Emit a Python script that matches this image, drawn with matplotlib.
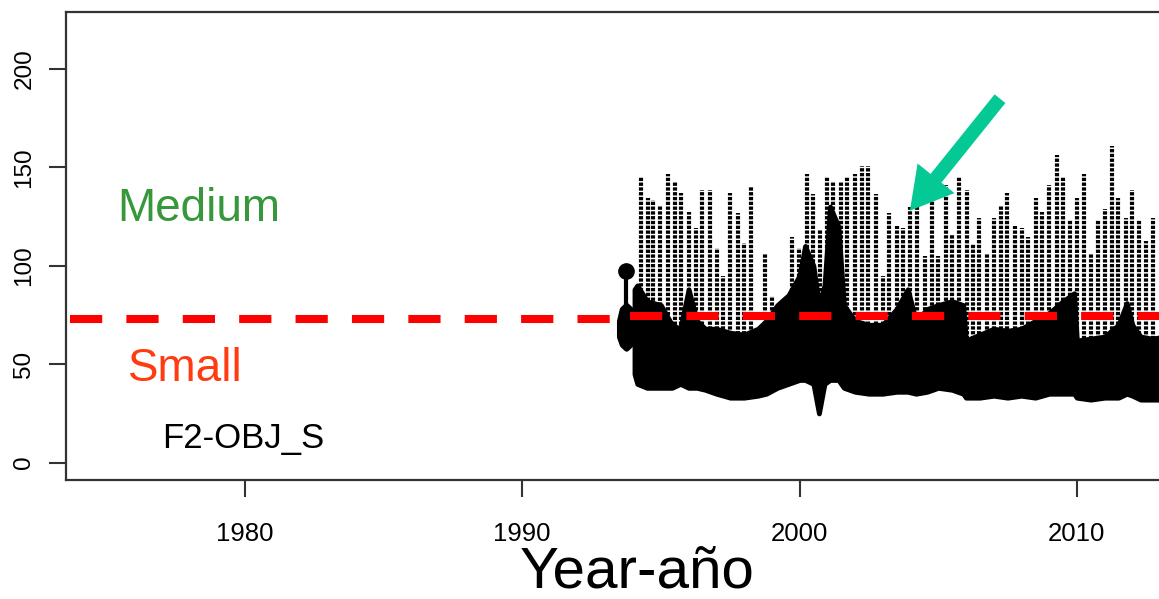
import matplotlib
matplotlib.use('Agg')
import matplotlib.pyplot as plt
import numpy as np

plt.rcParams['font.family'] = ['Liberation Sans', 'DejaVu Sans']

# -------- peak events (year, peak size)
peak_year = [1994.27, 1994.52, 1994.71, 1994.97, 1995.25, 1995.51, 1995.72, 1996.01,
             1996.26, 1996.48, 1996.77, 1997.02, 1997.24, 1997.49, 1997.78, 1997.99,
             1998.25, 1998.75, 1999.00, 1999.73, 1999.98, 2000.27, 2000.48, 2000.74,
             2000.99, 2001.20, 2001.49, 2001.71, 2002.00, 2002.25, 2002.47, 2002.76,
             2003.01, 2003.22, 2003.51, 2003.73, 2003.98, 2004.23, 2004.52, 2004.77,
             2004.99, 2005.28, 2005.50, 2005.75, 2006.04, 2006.25, 2006.47, 2006.76,
             2007.01, 2007.26, 2007.48, 2007.77, 2008.02, 2008.24, 2008.53, 2008.74,
             2008.99, 2009.28, 2009.50, 2009.75, 2010.00, 2010.26, 2010.51, 2010.76,
             2011.01, 2011.27, 2011.48, 2011.77, 2011.99, 2012.24, 2012.49, 2012.74]
peak_value = [145.2, 134.5, 133.5, 130.5, 146.7, 142.6, 137.1, 127.4,
              119.3, 138.6, 138.6, 109.1, 94.9, 137.1, 126.9, 111.7,
              140.6, 106.6, 84.8, 114.7, 109.1, 146.7, 136.5, 118.8,
              145.2, 142.6, 142.6, 145.2, 146.7, 150.8, 150.8, 136.5,
              94.9, 126.9, 120.3, 119.3, 129.9, 136.5, 105.1, 135.5,
              105.1, 141.1, 116.2, 145.2, 138.6, 111.2, 124.4, 106.6,
              124.4, 130.5, 137.1, 120.3, 119.3, 114.7, 134.5, 127.4,
              141.1, 156.3, 145.2, 123.4, 134.5, 146.7, 106.1, 123.4,
              128.9, 160.9, 134.5, 124.4, 138.6, 123.4, 112.7, 124.4]

# -------- continuous record envelope
band_year = [1994.05, 1994.15, 1994.5, 1995.0, 1995.4, 1995.7, 1996.0, 1996.3,
             1996.6, 1997.0, 1997.5, 1998.0, 1998.5, 1998.8, 1999.2, 1999.6,
             2000.0, 2000.2, 2000.5, 2000.7, 2000.9, 2001.1, 2001.4, 2001.6,
             2002.0, 2002.5, 2003.0, 2003.5, 2003.9, 2004.2, 2004.6, 2005.0,
             2005.5, 2005.9, 2006.0, 2006.5, 2007.0, 2007.5, 2008.0, 2008.5,
             2009.0, 2009.5, 2009.9, 2010.0, 2010.5, 2011.0, 2011.5, 2011.8,
             2012.0, 2012.3, 2012.7, 2013.2]
band_low = [45, 40, 38, 38, 38, 40, 38, 38,
            37, 35, 33, 33, 34, 35, 38, 40,
            42, 42, 40, 25, 40, 42, 42, 38,
            36, 35, 35, 36, 36, 35, 36, 38,
            37, 35, 33, 33, 34, 33, 34, 33,
            35, 35, 35, 33, 32, 33, 33, 35,
            34, 32, 32, 32]
band_high = [88, 90, 82, 80, 70, 68, 88, 72,
             68, 68, 66, 65, 68, 72, 80, 85,
             95, 110, 100, 80, 90, 130, 120, 80,
             72, 70, 70, 78, 88, 72, 78, 80,
             82, 80, 62, 65, 68, 67, 68, 72,
             76, 82, 86, 62, 63, 64, 70, 81,
             70, 64, 63, 64]

# -------- short early record
early_year = [1993.5, 1993.6, 1993.75, 1993.9, 1994.0]
early_low = [64, 60, 58, 60, 64]
early_high = [72, 78, 80, 78, 72]
early_peak_year = 1993.75
early_peak = 97.5

threshold_old = 73.1
threshold = 74.6

fig = plt.figure(figsize=(11.59, 5.99), dpi=100)
ax = fig.add_axes([66 / 1159, 119 / 599, 1142 / 1159, 468 / 599])

# spikes drawn as stacked '+' columns
ax.vlines(peak_year, 60, peak_value, colors='black', lw=3.0,
          linestyles=(0, (0.8, 0.35)), zorder=2)
ax.fill_between(band_year, band_low, band_high, color='black', lw=3.5,
                edgecolor='black', joinstyle='round', zorder=3)
ax.fill_between(early_year, early_low, early_high, color='black', lw=4,
                edgecolor='black', joinstyle='round', zorder=3)
ax.plot([early_peak_year, early_peak_year], [75, early_peak], color='black', lw=3, zorder=3)
ax.plot([early_peak_year], [early_peak], 'o', color='black', ms=11, zorder=3)

# size threshold
ax.plot([1973.7, 1993.35], [threshold_old, threshold_old], color='#ff0000', lw=5.8,
        dashes=(4, 3), solid_capstyle='butt', dash_capstyle='butt', zorder=4)
ax.plot([1993.88, 2014.73], [threshold, threshold], color='#ff0000', lw=5.8,
        dashes=(4, 3), solid_capstyle='butt', dash_capstyle='butt', zorder=4)

ax.text(1975.4, 122.8, 'Medium', color='#36983a', fontsize=33, va='baseline')
ax.text(1975.8, 41.6, 'Small', color='#ff3b12', fontsize=33, va='baseline')
ax.text(1977.0, 7.6, 'F2-OBJ_S', color='black', fontsize=25, va='baseline')

ax.annotate('', xy=(2003.98, 127.9), xytext=(2007.23, 184.8),
            arrowprops=dict(arrowstyle='simple,head_length=1.5,head_width=1.7,tail_width=0.5',
                            color='#05c994', lw=0, mutation_scale=20,
                            shrinkA=0, shrinkB=0), zorder=5)

ax.set_xlim(1973.55, 2014.73)
ax.set_ylim(-8.8, 228.8)
ax.set_xticks([1980, 1990, 2000, 2010])
ax.set_yticks([0, 50, 100, 150, 200])
ax.tick_params(axis='x', length=12, width=1.5, pad=18, labelsize=18.5, color='#333333')
ax.tick_params(axis='y', length=12, width=1.5, pad=10, labelsize=17.5, color='#333333')
for lab in ax.get_yticklabels():
    lab.set_rotation(90)
    lab.set_va('center')
for sp in ax.spines.values():
    sp.set_color('#333333')
    sp.set_linewidth(1.6)

fig.text(637 / 1159, 11 / 599, 'Year-año', ha='center', va='baseline', fontsize=42)

fig.savefig('out.png', dpi=100)
